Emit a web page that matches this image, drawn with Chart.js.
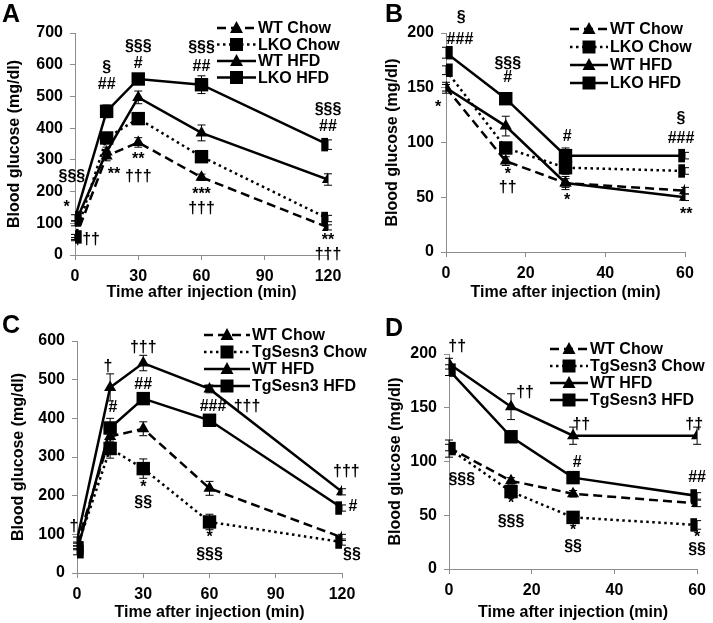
<!DOCTYPE html>
<html>
<head>
<meta charset="utf-8">
<script src="https://cdn.jsdelivr.net/npm/chart.js@4.4.1/dist/chart.umd.min.js"></script>
<style>
  body { margin: 0; background: #fff; }
  #wrap { position: relative; width: 713px; height: 623px; overflow: hidden; }
  .panel { position: absolute; }
</style>
</head>
<body>
<div id="wrap">
  <canvas class="panel" id="chartA" width="370" height="311" style="left:0;top:0"></canvas>
  <canvas class="panel" id="chartB" width="358" height="311" style="left:355px;top:0"></canvas>
  <canvas class="panel" id="chartC" width="370" height="312" style="left:0;top:311px"></canvas>
  <canvas class="panel" id="chartD" width="358" height="312" style="left:355px;top:311px"></canvas>
</div>
<script>
// ---- data ----
const timeLong = [0, 15, 30, 60, 120];
const timeShort = [0, 15, 30, 60];
const xTicksLong = [0, 30, 60, 90, 120];
const xTicksShort = [0, 20, 40, 60];
const yTicksA = [0, 100, 200, 300, 400, 500, 600, 700];
const yTicksB = [0, 50, 100, 150, 200];
const yTicksC = [0, 100, 200, 300, 400, 500, 600];
const yTicksD = [0, 50, 100, 150, 200];

// A: GTT, LKO
const wtChowA = [50, 312, 355, 245, 87];
const lkoChowA = [57, 369, 430, 310, 115];
const wtHfdA = [100, 325, 497, 385, 238];
const lkoHfdA = [117, 453, 555, 537, 348];
const wtChowAErr = [5, 15, 15, 10, 8];
const lkoChowAErr = [8, 12, 12, 10, 10];
const wtHfdAErr = [8, 15, 20, 25, 18];
const lkoHfdAErr = [10, 20, 10, 28, 15];

// B: ITT, LKO
const wtChowB = [150, 83, 63, 56];
const lkoChowB = [166, 95, 77, 74];
const wtHfdB = [150, 115, 63, 50];
const lkoHfdB = [182, 140, 88, 88];
const wtChowBErr = [3, 4, 4, 3];
const lkoChowBErr = [4, 5, 6, 3];
const wtHfdBErr = [5, 9, 6, 3];
const lkoHfdBErr = [5, 5, 7, 3];

// C: GTT, TgSesn3
const wtChowC = [75, 353, 373, 219, 92];
const tgChowC = [65, 322, 270, 132, 80];
const wtHfdC = [85, 480, 543, 476, 210];
const tgHfdC = [55, 375, 451, 395, 168];
const wtChowCErr = [5, 12, 18, 18, 8];
const tgChowCErr = [5, 25, 25, 20, 8];
const wtHfdCErr = [8, 35, 20, 10, 8];
const tgHfdCErr = [8, 25, 10, 10, 8];

// D: ITT, TgSesn3
const wtChowD = [113, 82, 70, 61];
const tgChowD = [112, 72, 48, 41];
const wtHfdD = [191, 151, 124, 124];
const tgHfdD = [185, 123, 85, 68];
const wtChowDErr = [3, 3, 3, 3];
const tgChowDErr = [8, 4, 4, 4];
const wtHfdDErr = [5, 12, 8, 8];
const tgHfdDErr = [5, 3, 4, 3];

// significance marks: [time, glucose, text]
const notesA = [
  [-4, 151, '*'], [-1.5, 246, '§§§'], [5.5, 50, '†††'],
  [15, 590, '§'], [15, 536, '##'], [18.5, 255, '**'],
  [30, 656, '§§§'], [30, 605, '#'], [30, 300, '**'], [30, 246, '†††'],
  [60, 653, '§§§'], [60, 593, '##'], [60, 189, '***'], [60, 145, '†††'],
  [120, 457, '§§§'], [120, 404, '##'], [120, 44, '**'], [120, 0, '†††']
];
const notesB = [
  [3.8, 214, '§'], [3.5, 194, '###'], [-2, 132, '*'],
  [15.5, 172, '§§§'], [15.5, 159, '#'], [15.5, 71, '*'], [15.5, 59, '††'],
  [30.4, 105, '#'], [30.4, 47, '*'],
  [59, 122, '§'], [59, 104, '###'], [60.3, 34, '**']
];
const notesC = [
  [-1.4, 119, '†'],
  [14, 533, '†'], [16.3, 427, '#'],
  [30, 584, '†††'], [30, 486, '##'], [30, 220, '*'], [30, 181, '§§'],
  [61.6, 430, '###'], [77, 430, '†††'], [60, 91, '*'], [60, 47, '§§§'],
  [122, 261, '†††'], [125, 171, '#'], [124.5, 47, '§§']
];
const notesD = [
  [2, 207, '††'], [3.1, 83, '§§§'],
  [18.4, 164, '††'], [15, 61, '*'], [15, 44, '§§§'],
  [32, 134, '††'], [31, 99, '#'], [30, 36, '*'], [30, 21, '§§'],
  [59.3, 134, '††'], [60, 85, '##'], [60, 29, '*'], [60, 18, '§§']
];

const FONT = '"Liberation Sans", Arial, sans-serif';
const AXIS = '#8c8c8c';

function series(label, x, y, err, style) {
  const dash = style === 'dash' ? [9, 5] : style === 'dot' ? [2.5, 3.5] : [];
  const shape = label.indexOf('WT') === 0 ? 'triangle' : 'rect';
  return {
    label: label,
    data: x.map((t, i) => ({ x: t, y: y[i] })),
    err: err,
    borderColor: '#000',
    backgroundColor: '#000',
    borderWidth: 2.5,
    borderDash: dash,
    pointStyle: shape,
    pointRadius: shape === 'rect' ? 9.5 : 7,
    pointBorderWidth: 0,
    pointBackgroundColor: '#000',
    tension: 0
  };
}

function marker(ctx, shape, x, y) {
  ctx.beginPath();
  if (shape === 'rect') {
    ctx.rect(x - 6.5, y - 6.5, 13, 13);
  } else {
    ctx.moveTo(x, y - 7);
    ctx.lineTo(x + 6.5, y + 5);
    ctx.lineTo(x - 6.5, y + 5);
    ctx.closePath();
  }
  ctx.fill();
}

const extras = {
  id: 'extras',
  beforeDatasetsDraw(chart) {
    const ctx = chart.ctx;
    const xs = chart.scales.x, ys = chart.scales.y;
    ctx.save();
    ctx.strokeStyle = '#000';
    ctx.lineWidth = 1;
    chart.data.datasets.forEach(ds => {
      ds.data.forEach((p, i) => {
        const e = ds.err[i];
        const px = xs.getPixelForValue(p.x);
        const y1 = ys.getPixelForValue(p.y + e), y2 = ys.getPixelForValue(p.y - e);
        ctx.beginPath();
        ctx.moveTo(px, y1); ctx.lineTo(px, y2);
        ctx.moveTo(px - 4, y1); ctx.lineTo(px + 4, y1);
        ctx.moveTo(px - 4, y2); ctx.lineTo(px + 4, y2);
        ctx.stroke();
      });
    });
    ctx.restore();
  },
  afterDraw(chart) {
    const ctx = chart.ctx;
    const o = chart.options.plugins.extras;
    const xs = chart.scales.x, ys = chart.scales.y;
    const area = chart.chartArea;
    ctx.save();
    // panel letter
    ctx.fillStyle = '#000';
    ctx.font = 'bold 25px ' + FONT;
    ctx.textAlign = 'left';
    ctx.textBaseline = 'top';
    ctx.fillText(o.letter, o.letterX, o.letterY);
    // y axis title
    ctx.save();
    ctx.font = 'bold 16px ' + FONT;
    ctx.textAlign = 'center';
    ctx.textBaseline = 'middle';
    ctx.translate(o.yTitleX, (area.top + area.bottom) / 2);
    ctx.rotate(-Math.PI / 2);
    ctx.fillText('Blood glucose (mg/dl)', 0, 0);
    ctx.restore();
    // significance marks
    ctx.font = 'bold 16px ' + FONT;
    ctx.textAlign = 'center';
    ctx.textBaseline = 'middle';
    o.notes.forEach(n => {
      ctx.fillText(n[2], xs.getPixelForValue(n[0]), ys.getPixelForValue(n[1]));
    });
    // legend
    const lg = o.legend;
    ctx.font = 'bold 16px ' + FONT;
    ctx.textAlign = 'left';
    chart.data.datasets.forEach((ds, i) => {
      const y = lg.y + i * lg.dy;
      ctx.strokeStyle = '#000';
      ctx.lineWidth = 2.5;
      ctx.setLineDash(ds.borderDash);
      ctx.beginPath();
      ctx.moveTo(lg.x0, y); ctx.lineTo(lg.x1, y);
      ctx.stroke();
      ctx.setLineDash([]);
      marker(ctx, ds.pointStyle, (lg.x0 + lg.x1) / 2, y);
      ctx.fillText(ds.label, lg.x1 + 2, y + 1);
    });
    ctx.restore();
  }
};

function makeChart(id, datasets, cfg) {
  const canvas = document.getElementById(id);
  const W = canvas.width, H = canvas.height;
  const tickFont = { family: FONT, size: 16, weight: 'bold' };
  return new Chart(canvas.getContext('2d'), {
    type: 'line',
    data: { datasets: datasets },
    options: {
      responsive: false,
      animation: false,
      layout: { padding: { left: 0, top: cfg.area[1], right: W - cfg.area[2], bottom: 0 } },
      plugins: {
        legend: { display: false },
        tooltip: { enabled: false },
        extras: { letter: cfg.letter, letterX: cfg.letterPos[0], letterY: cfg.letterPos[1],
                  yTitleX: cfg.yTitleX, notes: cfg.notes, legend: cfg.legend }
      },
      scales: {
        x: {
          type: 'linear',
          min: cfg.xTicks[0], max: cfg.xTicks[cfg.xTicks.length - 1],
          afterBuildTicks: s => { s.ticks = cfg.xTicks.map(v => ({ value: v })); },
          afterFit: s => { s.height = H - cfg.area[3]; },
          grid: { drawOnChartArea: false, drawTicks: true, tickLength: 5, color: AXIS },
          border: { color: AXIS, width: 1 },
          ticks: { color: '#000', font: tickFont, padding: 7, maxRotation: 0 },
          title: { display: true, text: 'Time after injection (min)', color: '#000', font: tickFont,
                   padding: { top: 0, bottom: cfg.xTitlePad } }
        },
        y: {
          min: cfg.yTicks[0], max: cfg.yTicks[cfg.yTicks.length - 1],
          afterBuildTicks: s => { s.ticks = cfg.yTicks.map(v => ({ value: v })); },
          afterFit: s => { s.width = cfg.area[0]; },
          grid: { drawOnChartArea: false, drawTicks: true, tickLength: 5, color: AXIS },
          border: { color: AXIS, width: 1 },
          ticks: { color: '#000', font: tickFont, padding: 7 }
        }
      }
    },
    plugins: [extras]
  });
}

makeChart('chartA', [
  series('WT Chow', timeLong, wtChowA, wtChowAErr, 'dash'),
  series('LKO Chow', timeLong, lkoChowA, lkoChowAErr, 'dot'),
  series('WT HFD', timeLong, wtHfdA, wtHfdAErr, 'solid'),
  series('LKO HFD', timeLong, lkoHfdA, lkoHfdAErr, 'solid')
], { area: [75, 33, 328, 255], yTitleX: 15, xTitlePad: 9, xTicks: xTicksLong, yTicks: yTicksA, notes: notesA,
     letter: 'A', letterPos: [2, 3], legend: { x0: 217, x1: 256, y: 28, dy: 16.5 } });

makeChart('chartB', [
  series('WT Chow', timeShort, wtChowB, wtChowBErr, 'dash'),
  series('LKO Chow', timeShort, lkoChowB, lkoChowBErr, 'dot'),
  series('WT HFD', timeShort, wtHfdB, wtHfdBErr, 'solid'),
  series('LKO HFD', timeShort, lkoHfdB, lkoHfdBErr, 'solid')
], { area: [91, 33, 330, 252], yTitleX: 38, xTitlePad: 9, xTicks: xTicksShort, yTicks: yTicksB, notes: notesB,
     letter: 'B', letterPos: [30, 3], legend: { x0: 215, x1: 253, y: 29, dy: 18 } });

makeChart('chartC', [
  series('WT Chow', timeLong, wtChowC, wtChowCErr, 'dash'),
  series('TgSesn3 Chow', timeLong, tgChowC, tgChowCErr, 'dot'),
  series('WT HFD', timeLong, wtHfdC, wtHfdCErr, 'solid'),
  series('TgSesn3 HFD', timeLong, tgHfdC, tgHfdCErr, 'solid')
], { area: [77, 30, 342, 262], yTitleX: 19, xTitlePad: 1, xTicks: xTicksLong, yTicks: yTicksC, notes: notesC,
     letter: 'C', letterPos: [2, 3], legend: { x0: 204, x1: 250, y: 24, dy: 17 } });

makeChart('chartD', [
  series('WT Chow', timeShort, wtChowD, wtChowDErr, 'dash'),
  series('TgSesn3 Chow', timeShort, tgChowD, tgChowDErr, 'dot'),
  series('WT HFD', timeShort, wtHfdD, wtHfdDErr, 'solid'),
  series('TgSesn3 HFD', timeShort, tgHfdD, tgHfdDErr, 'solid')
], { area: [94, 43, 348, 258], yTitleX: 41, xTitlePad: 1, xTicks: xTicksShort, yTicks: yTicksD, notes: notesD,
     letter: 'D', letterPos: [30, 6], legend: { x0: 195, x1: 233, y: 38, dy: 17 } });
</script>
</body>
</html>
